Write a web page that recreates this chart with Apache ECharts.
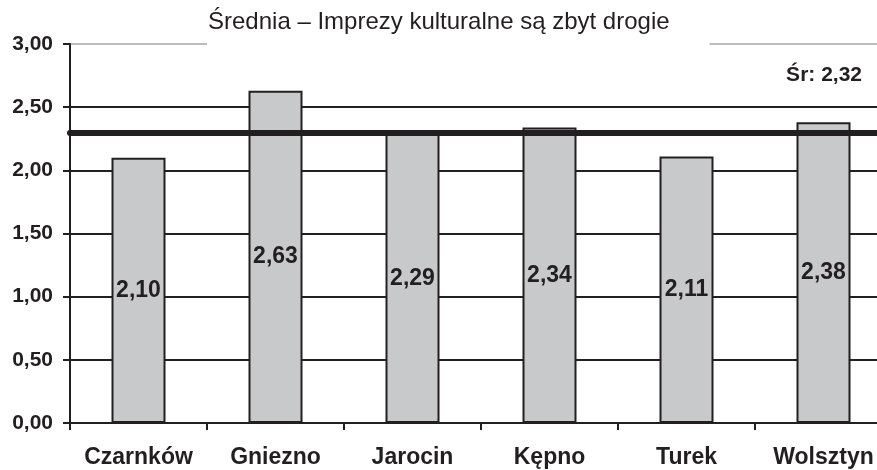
<!DOCTYPE html>
<html>
<head>
<meta charset="utf-8">
<script src="https://cdn.jsdelivr.net/npm/echarts@6/dist/echarts.min.js"></script>
<style>
  html, body { margin: 0; padding: 0; background: #fff; overflow: hidden; }
  /* plot runs past the right edge of the window, as in the original */
  #chart { width: 892px; height: 470px; }
</style>
</head>
<body>
<div id="chart"></div>
<script>
var titleText = 'Średnia – Imprezy kulturalne są zbyt drogie'
var cities = ['Czarnków', 'Gniezno', 'Jarocin', 'Kępno', 'Turek', 'Wolsztyn']
var means = [2.10, 2.63, 2.29, 2.34, 2.11, 2.38]
var avgLine = 2.30
var avgLabel = 'Śr: 2,32'
var yMin = 0
var yMax = 3
var yStep = 0.5

var ink = '#231f20'
var font = 'Liberation Sans, Arial, sans-serif'

var chart = echarts.init(document.getElementById('chart'))

function fmt(v) {
  return Number(v).toFixed(2).replace('.', ',')
}

var option = {
  animation: false,
  backgroundColor: '#fff',
  title: [{
    text: titleText,
    left: 207,
    top: 0,
    padding: [8, 40, 12, 1],
    backgroundColor: '#fff',
    z: 10,
    textStyle: {
      fontFamily: font,
      fontSize: 24,
      fontWeight: 'normal',
      color: ink,
      lineHeight: 28
    }
  }, {
    text: avgLabel,
    right: 30,
    top: 65,
    padding: 0,
    textStyle: {
      fontFamily: font,
      fontSize: 21,
      fontWeight: 'bold',
      color: ink
    }
  }],
  grid: {
    left: 70,
    right: 0,
    top: 44,
    bottom: 47
  },
  xAxis: {
    type: 'category',
    data: cities,
    axisLine: { lineStyle: { color: ink, width: 2 } },
    axisTick: { show: true, length: 7, lineStyle: { color: ink, width: 2 } },
    axisLabel: {
      interval: 0,
      margin: 23,
      color: ink,
      fontFamily: font,
      fontSize: 23,
      fontWeight: 'bold'
    }
  },
  yAxis: {
    type: 'value',
    min: yMin,
    max: yMax,
    interval: yStep,
    axisLine: { show: true, lineStyle: { color: ink, width: 2 } },
    axisTick: { show: true, length: 7, lineStyle: { color: ink, width: 2 } },
    axisLabel: {
      margin: 17,
      color: ink,
      fontFamily: font,
      fontSize: 21,
      fontWeight: 'bold',
      formatter: fmt
    },
    splitLine: {
      show: true,
      lineStyle: {
        color: [ink, ink, ink, ink, ink, ink, '#bdbdbd'],
        width: 2
      }
    }
  },
  series: [{
    type: 'bar',
    data: means,
    barWidth: 54,
    itemStyle: {
      color: '#c8c9cb',
      borderColor: ink,
      borderWidth: 2
    },
    label: {
      show: true,
      position: 'inside',
      color: ink,
      fontFamily: font,
      fontSize: 23,
      fontWeight: 'bold',
      formatter: function (p) { return fmt(p.value) }
    },
    markLine: {
      silent: true,
      symbol: 'none',
      label: { show: false },
      lineStyle: { color: ink, width: 6, type: 'solid', cap: 'round' },
      data: [{ yAxis: avgLine }]
    }
  }]
}

chart.setOption(option)
</script>
</body>
</html>
